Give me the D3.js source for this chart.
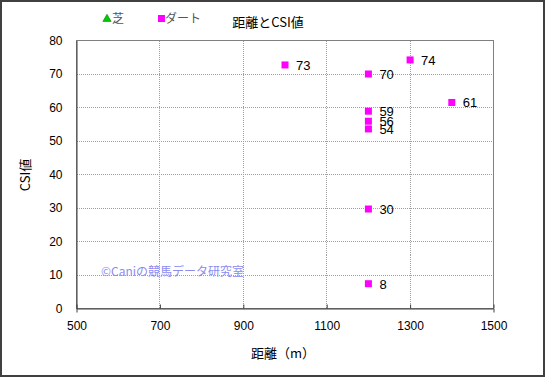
<!DOCTYPE html>
<html>
<head>
<meta charset="utf-8">
<script src="https://cdn.jsdelivr.net/npm/d3@7"></script>
<style>
  body { margin: 0; background: #fff; }
  svg { display: block; }
  .axis text { font-family: "Liberation Sans", Arial, sans-serif; font-size: 12px; fill: #000; }
  .jp { font-family: "Noto Sans CJK JP", sans-serif; }
</style>
</head>
<body>
<svg id="chart"></svg>
<script>
// ダート (dirt) points: distance (m), CSI value, label
const distances = [1000, 1300, 1200, 1400, 1200, 1200, 1200, 1200, 1200];
const csiValues = [72.7, 74.2, 70.0, 61.5, 58.9, 55.9, 53.6, 29.7, 7.4];
const pointLabels = ['73', '74', '70', '61', '59', '56', '54', '30', '8'];
// 芝 (turf) has no points in this chart
const turfDistances = [];
const turfValues = [];

const xTicks = [500, 700, 900, 1100, 1300, 1500];
const yTicks = [0, 10, 20, 30, 40, 50, 60, 70, 80];

const width = 545, height = 377;
const plot = { left: 76.5, right: 493.5, top: 40.5, bottom: 308.5 };

const svg = d3.select('#chart')
    .attr('width', width)
    .attr('height', height);

// outer frame
svg.append('rect')
    .attr('x', 1).attr('y', 1)
    .attr('width', width - 2).attr('height', height - 2)
    .attr('fill', '#fff')
    .attr('stroke', '#404040')
    .attr('stroke-width', 2);

const xScale = d3.scaleLinear().domain([500, 1500]).range([plot.left, plot.right]);
const yScale = d3.scaleLinear().domain([0, 80]).range([plot.bottom, plot.top]);
const snap = v => Math.round(v - 0.5) + 0.5;

// grid
const grid = svg.append('g').attr('shape-rendering', 'crispEdges');
grid.selectAll('.vgrid')
    .data(xTicks.slice(1, -1))
    .enter().append('line')
    .attr('x1', d => snap(xScale(d))).attr('x2', d => snap(xScale(d)))
    .attr('y1', plot.top).attr('y2', plot.bottom)
    .attr('stroke', '#a0a0a0')
    .attr('stroke-dasharray', '1,1');
grid.selectAll('.hgrid')
    .data(yTicks.slice(1, -1))
    .enter().append('line')
    .attr('x1', plot.left).attr('x2', plot.right)
    .attr('y1', d => snap(yScale(d))).attr('y2', d => snap(yScale(d)))
    .attr('stroke', '#a0a0a0')
    .attr('stroke-dasharray', '1,1');

// watermark
svg.append('text')
    .attr('class', 'jp')
    .attr('x', 101).attr('y', 276)
    .attr('font-size', 12)
    .attr('fill', '#8c8cf0')
    .text('©Caniの競馬データ研究室');

// plot frame
svg.append('rect')
    .attr('x', plot.left).attr('y', plot.top)
    .attr('width', plot.right - plot.left)
    .attr('height', plot.bottom - plot.top)
    .attr('fill', 'none')
    .attr('stroke', '#808080')
    .attr('stroke-width', 1);

// axes
const xAxis = d3.axisBottom(xScale).tickValues(xTicks).tickFormat(d3.format('d')).tickSize(4).tickPadding(9);
const yAxis = d3.axisLeft(yScale).tickValues(yTicks).tickFormat(d3.format('d')).tickSize(0).tickPadding(14);

const gx = svg.append('g')
    .attr('class', 'axis')
    .attr('transform', `translate(0, ${plot.bottom})`)
    .call(xAxis);
gx.select('.domain').attr('stroke', '#404040');
gx.selectAll('.tick line').attr('stroke', '#404040').attr('y2', -4);

const gy = svg.append('g')
    .attr('class', 'axis')
    .attr('transform', `translate(${plot.left}, 0)`)
    .call(yAxis);
gy.select('.domain').attr('stroke', '#404040');

// points
const pts = distances.map((d, i) => ({ x: d, y: csiValues[i], label: pointLabels[i] }));
const ptLayer = svg.append('g');
ptLayer.selectAll('.pt')
    .data(pts)
    .enter().append('rect')
    .attr('x', d => xScale(d.x) - 3.5)
    .attr('y', d => yScale(d.y) - 3.5)
    .attr('width', 7).attr('height', 7)
    .attr('fill', '#ff00ff');
ptLayer.selectAll('.lbl')
    .data(pts)
    .enter().append('text')
    .attr('x', d => xScale(d.x) + 11)
    .attr('y', d => yScale(d.y) + 5)
    .attr('font-family', '"Liberation Sans", Arial, sans-serif')
    .attr('font-size', 13)
    .text(d => d.label);

// title
svg.append('text')
    .attr('class', 'jp')
    .attr('x', 268).attr('y', 27)
    .attr('text-anchor', 'middle')
    .attr('font-size', 13)
    .text('距離とCSI値');

// legend
svg.append('path')
    .attr('d', d3.symbol().type(d3.symbolTriangle).size(30)())
    .attr('transform', 'translate(107, 19)')
    .attr('fill', '#00cc00')
    .attr('stroke', '#006600')
    .attr('stroke-width', 0.5);
svg.append('text')
    .attr('class', 'jp')
    .attr('x', 112).attr('y', 23)
    .attr('font-size', 12)
    .attr('fill', '#555')
    .text('芝');
svg.append('rect')
    .attr('x', 158).attr('y', 15)
    .attr('width', 7).attr('height', 7)
    .attr('fill', '#ff00ff');
svg.append('text')
    .attr('class', 'jp')
    .attr('x', 165).attr('y', 23)
    .attr('font-size', 12)
    .attr('fill', '#555')
    .text('ダート');

// axis titles
svg.append('text')
    .attr('class', 'jp')
    .attr('x', 283).attr('y', 358)
    .attr('text-anchor', 'middle')
    .attr('font-size', 13)
    .text('距離（m）');
svg.append('text')
    .attr('class', 'jp')
    .attr('transform', 'translate(30, 175) rotate(-90)')
    .attr('text-anchor', 'middle')
    .attr('font-size', 13)
    .text('CSI値');
</script>
</body>
</html>
